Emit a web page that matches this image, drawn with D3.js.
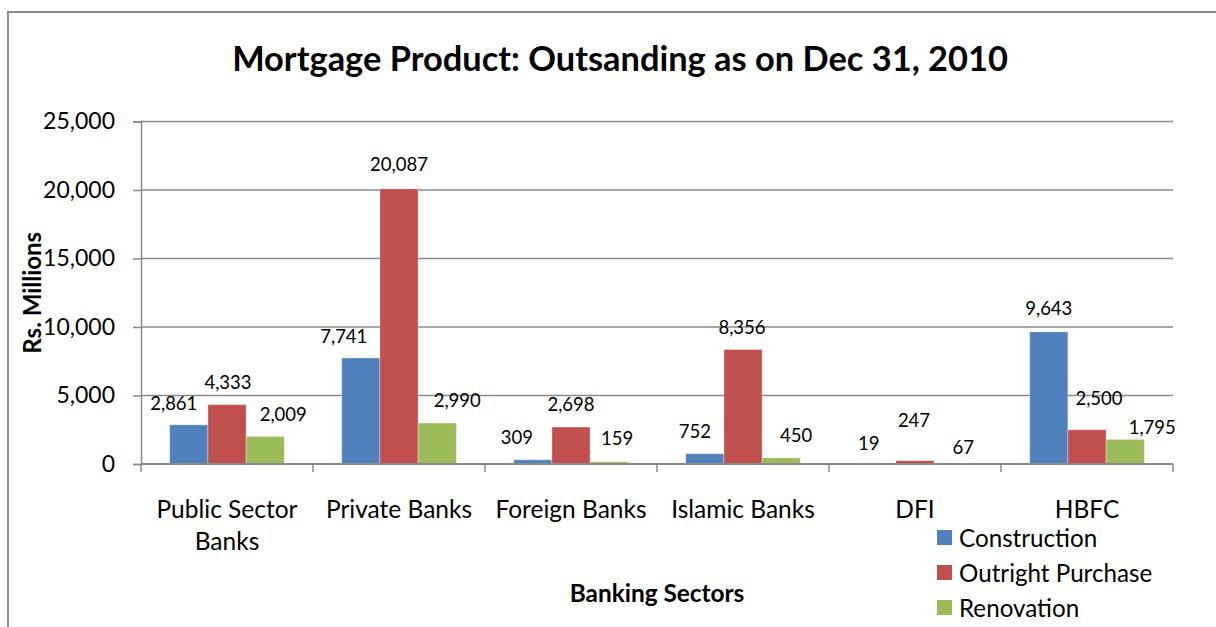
<!DOCTYPE html>
<html>
<head>
<meta charset="utf-8">
<script src="https://cdn.jsdelivr.net/npm/d3@7"></script>
<style>
  html, body { margin: 0; padding: 0; background: #fff; }
  svg { display: block; }
  text { font-family: Lato, "Open Sans", sans-serif; fill: #000; }
</style>
</head>
<body>
<svg id="chart" width="1216" height="627"></svg>
<script>
// Mortgage outstanding by banking sector (Rs. Millions)
const sectors = [["Public Sector", "Banks"], ["Private Banks"], ["Foreign Banks"], ["Islamic Banks"], ["DFI"], ["HBFC"]];
const seriesNames = ["Construction", "Outright Purchase", "Renovation"];
const construction     = [2861, 7741, 309, 752, 19, 9643];
const outrightPurchase = [4333, 20087, 2698, 8356, 247, 2500];
const renovation       = [2009, 2990, 159, 450, 67, 1795];
const yTicks = [0, 5000, 10000, 15000, 20000, 25000];

// Per-label nudges (px) for the value labels, per sector: [Construction, Outright, Renovation]
const labelNudge = [
  [[-15, 0], [1, -1], [18, 0]],
  [[-17, 0], [0, -3], [20, -1]],
  [[-16, -1], [0, -1], [8, -2]],
  [[-10, -1], [-1, -1], [15, -1]],
  [[-8, 1], [-1, -19], [10, 6]],
  [[0, -2], [12, -10], [27, 10]]
];

const colors = ["#4F81BD", "#C0504D", "#9BBB59"];
const values = [construction, outrightPurchase, renovation];

const svg = d3.select("#chart");
const plot = { left: 141, right: 1173, top: 121.5, bottom: 464 };

// Outer chart frame (extends past the right and bottom edges)
svg.append("rect")
  .attr("x", 8).attr("y", 12)
  .attr("width", 1240).attr("height", 640)
  .attr("fill", "none").attr("stroke", "#8c8c8c").attr("stroke-width", 2);

const x0 = d3.scaleBand()
  .domain(d3.range(sectors.length))
  .range([plot.left, plot.right])
  .paddingInner(0).paddingOuter(0);

const x1 = d3.scaleBand()
  .domain(d3.range(seriesNames.length))
  .range([0, x0.bandwidth()])
  .paddingInner(0).paddingOuter(0.75);

const y = d3.scaleLinear().domain([0, 25000]).range([plot.bottom, plot.top]);

// Gridlines
svg.append("g")
  .selectAll("line")
  .data(yTicks.filter(d => d > 0))
  .join("line")
  .attr("x1", plot.left).attr("x2", plot.right)
  .attr("y1", d => y(d)).attr("y2", d => y(d))
  .attr("stroke", "#8a8a8a").attr("stroke-width", 1.5);

// Y axis
const yAxis = svg.append("g")
  .attr("transform", `translate(${plot.left},0)`)
  .call(d3.axisLeft(y).tickValues(yTicks).tickFormat(d3.format(",")).tickSize(8).tickPadding(18));
yAxis.select(".domain").attr("stroke", "#8a8a8a").attr("stroke-width", 1.5);
yAxis.selectAll(".tick line").attr("stroke", "#8a8a8a").attr("stroke-width", 1.5);
yAxis.selectAll(".tick text")
  .style("font-family", "Lato, sans-serif").style("font-size", "23px").attr("fill", "#000");

// Bars
const flat = [];
sectors.forEach((s, i) => {
  values.forEach((arr, k) => flat.push({ i, k, v: arr[i] }));
});

svg.append("g")
  .selectAll("rect")
  .data(flat)
  .join("rect")
  .attr("x", d => x0(d.i) + x1(d.k))
  .attr("y", d => y(d.v))
  .attr("width", x1.bandwidth())
  .attr("height", d => y(0) - y(d.v))
  .attr("fill", d => colors[d.k])
  .attr("stroke", "rgba(255,255,255,0.35)")
  .attr("stroke-width", 1);

// X axis (category boundary ticks)
const xAxisG = svg.append("g");
xAxisG.append("line")
  .attr("x1", plot.left).attr("x2", plot.right)
  .attr("y1", y(0)).attr("y2", y(0))
  .attr("stroke", "#8a8a8a").attr("stroke-width", 2);
xAxisG.selectAll("line.tk")
  .data(d3.range(sectors.length + 1))
  .join("line")
  .attr("class", "tk")
  .attr("x1", d => d < sectors.length ? x0(d) : plot.right)
  .attr("x2", d => d < sectors.length ? x0(d) : plot.right)
  .attr("y1", y(0)).attr("y2", y(0) + 8)
  .attr("stroke", "#8a8a8a").attr("stroke-width", 1.5);

// Category labels
const catText = svg.append("g")
  .selectAll("text")
  .data(sectors)
  .join("text")
  .attr("x", (d, i) => x0(i) + x0.bandwidth() / 2)
  .attr("y", 508)
  .attr("text-anchor", "middle")
  .attr("dominant-baseline", "central")
  .style("font-size", "24.5px");
catText.selectAll("tspan")
  .data(d => d)
  .join("tspan")
  .attr("x", function () { return this.parentNode.getAttribute("x"); })
  .attr("dy", (d, j) => j === 0 ? 0 : 32)
  .text(d => d);

// Value labels
svg.append("g")
  .selectAll("text")
  .data(flat)
  .join("text")
  .attr("x", d => x0(d.i) + x1(d.k) + x1.bandwidth() / 2 + labelNudge[d.i][d.k][0])
  .attr("y", d => y(d.v) - 22 + labelNudge[d.i][d.k][1])
  .attr("text-anchor", "middle")
  .attr("dominant-baseline", "central")
  .style("font-size", "18.5px")
  .text(d => d3.format(",")(d.v));

// Title
svg.append("text")
  .attr("x", 620).attr("y", 57)
  .attr("text-anchor", "middle")
  .attr("dominant-baseline", "central")
  .style("font-size", "34.4px").style("font-weight", "bold")
  .text("Mortgage Product: Outsanding as on Dec 31, 2010");

// Axis titles
svg.append("text")
  .attr("transform", `translate(31,${(plot.top + plot.bottom) / 2}) rotate(-90)`)
  .attr("text-anchor", "middle")
  .attr("dominant-baseline", "central")
  .style("font-size", "24px").style("font-weight", "bold")
  .text("Rs. Millions");

svg.append("text")
  .attr("x", 657).attr("y", 592)
  .attr("text-anchor", "middle")
  .attr("dominant-baseline", "central")
  .style("font-size", "24.4px").style("font-weight", "bold")
  .text("Banking Sectors");

// Legend
const legend = svg.append("g")
  .selectAll("g")
  .data(seriesNames)
  .join("g")
  .attr("transform", (d, k) => `translate(937,${537.5 + k * 35})`);
legend.append("rect")
  .attr("x", 0).attr("y", -7.5).attr("width", 15).attr("height", 15)
  .attr("fill", (d, k) => colors[k]);
legend.append("text")
  .attr("x", 22).attr("y", 0)
  .attr("dominant-baseline", "central")
  .style("font-size", "24.2px")
  .text(d => d);
</script>
</body>
</html>
